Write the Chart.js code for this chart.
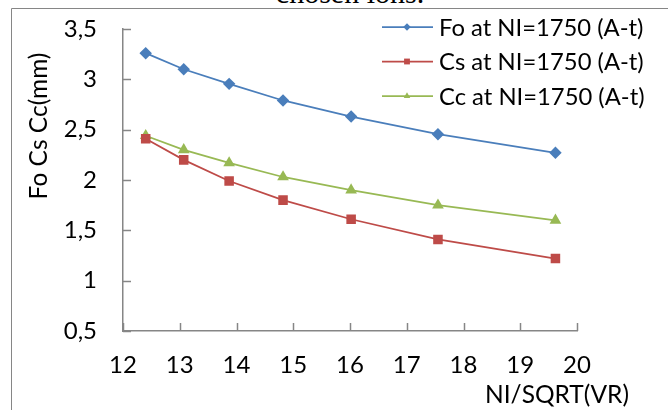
<!DOCTYPE html>
<html>
<head>
<meta charset="utf-8">
<script src="https://cdn.jsdelivr.net/npm/chart.js@4.4.0/dist/chart.umd.min.js"></script>
<style>
    body { margin: 0; background: #fff; }
    #wrap { position: relative; width: 668px; height: 410px; overflow: hidden; }
    #caption {
        position: absolute; left: 0; width: 700px; top: -22px;
        text-align: center; font: 30px "Liberation Serif", serif; line-height: 30px; color: #000;
    }
    canvas { position: absolute; left: 0; top: 0; }
</style>
</head>
<body>
<div id="wrap">
    <div id="caption">chosen ions.</div>
    <canvas id="chart" width="668" height="410"></canvas>
</div>
<script>
// Data
const xValues = [12.4, 13.07, 13.87, 14.82, 16.02, 17.55, 19.62];
const foValues = [3.26, 3.10, 2.955, 2.79, 2.63, 2.455, 2.27];
const csValues = [2.41, 2.20, 1.99, 1.80, 1.61, 1.41, 1.22];
const ccValues = [2.44, 2.30, 2.17, 2.03, 1.90, 1.75, 1.60];
const seriesNames = ['Fo at NI=1750 (A-t)', 'Cs at NI=1750 (A-t)', 'Cc at NI=1750 (A-t)'];

const FONT = 'Lato';
const AXIS_GREY = '#868686';

function toPoints(ys) {
    return xValues.map((x, i) => ({ x: x, y: ys[i] }));
}

// Frame, inside ticks, titles and legend
const extras = {
    id: 'extras',
    beforeDraw(chart) {
        const ctx = chart.ctx;
        ctx.save();
        ctx.strokeStyle = AXIS_GREY;
        ctx.lineWidth = 1;
        ctx.beginPath();
        ctx.moveTo(11.5, 420);
        ctx.lineTo(11.5, 8.5);
        ctx.lineTo(680, 8.5);
        ctx.stroke();
        ctx.restore();
    },
    afterDraw(chart) {
        const ctx = chart.ctx;
        const area = chart.chartArea;
        const xs = chart.scales.x;
        const ys = chart.scales.y;
        ctx.save();

        // tick marks pointing into the plot
        ctx.strokeStyle = AXIS_GREY;
        ctx.lineWidth = 1.5;
        ctx.beginPath();
        xs.ticks.forEach(t => {
            const px = Math.round(xs.getPixelForValue(t.value)) + 0.5;
            ctx.moveTo(px, area.bottom);
            ctx.lineTo(px, area.bottom - 8);
        });
        ys.ticks.forEach(t => {
            const py = Math.round(ys.getPixelForValue(t.value)) + 0.5;
            ctx.moveTo(area.left, py);
            ctx.lineTo(area.left + 8, py);
        });
        ctx.stroke();

        // axis titles
        ctx.fillStyle = '#000';
        ctx.font = '24.5px ' + FONT;
        ctx.textBaseline = 'middle';
        ctx.textAlign = 'center';
        ctx.fillText('NI/SQRT(VR)', 557, 395);
        ctx.save();
        ctx.translate(39, 126);
        ctx.rotate(-Math.PI / 2);
        ctx.fillText('Fo Cs Cc(mm)', 0, 0);
        ctx.restore();

        // legend
        ctx.font = '23.8px ' + FONT;
        ctx.textAlign = 'left';
        chart.data.datasets.forEach((ds, i) => {
            const y = 27 + i * 34.5;
            ctx.strokeStyle = ds.borderColor;
            ctx.lineWidth = 1.75;
            ctx.beginPath();
            ctx.moveTo(382, y);
            ctx.lineTo(433, y);
            ctx.stroke();
            ctx.fillStyle = ds.backgroundColor;
            Chart.helpers.drawPoint(ctx, {
                pointStyle: ds.pointStyle,
                radius: ds.pointRadius * 0.75,
                rotation: 0,
                borderWidth: 0
            }, 407, y);
            ctx.fillStyle = '#000';
            ctx.fillText(ds.label, 439, y + 1);
        });
        ctx.restore();
    }
};

const ctx = document.getElementById('chart').getContext('2d');
new Chart(ctx, {
    type: 'line',
    data: {
        datasets: [
            {
                label: seriesNames[0],
                data: toPoints(foValues),
                borderColor: '#4A7EBB',
                backgroundColor: '#4A7EBB',
                pointStyle: 'rectRot',
                pointRadius: 5,
                borderWidth: 1.75
            },
            {
                label: seriesNames[1],
                data: toPoints(csValues),
                borderColor: '#BE4B48',
                backgroundColor: '#BE4B48',
                pointStyle: 'rect',
                pointRadius: 5.5,
                borderWidth: 1.75
            },
            {
                label: seriesNames[2],
                data: toPoints(ccValues),
                borderColor: '#98B954',
                backgroundColor: '#98B954',
                pointStyle: 'triangle',
                pointRadius: 5,
                borderWidth: 1.75
            }
        ]
    },
    options: {
        responsive: false,
        animation: false,
        devicePixelRatio: 1,
        layout: { padding: { top: 29, right: 91, left: 0, bottom: 0 } },
        elements: {
            line: { tension: 0 },
            point: { borderWidth: 0, hoverRadius: 5 }
        },
        plugins: {
            legend: { display: false },
            tooltip: { enabled: false }
        },
        scales: {
            x: {
                type: 'linear',
                min: 12,
                max: 20,
                ticks: {
                    stepSize: 1,
                    color: '#000',
                    padding: 20,
                    maxRotation: 0,
                    font: { family: FONT, size: 24 }
                },
                grid: { display: false, drawTicks: false },
                border: { display: true, color: AXIS_GREY, width: 1.5 },
                afterFit(scale) {
                    scale.height = 79;
                    scale.paddingLeft = 0;
                    scale.paddingRight = 0;
                }
            },
            y: {
                min: 0.5,
                max: 3.5,
                ticks: {
                    stepSize: 0.5,
                    color: '#000',
                    padding: 26,
                    font: { family: FONT, size: 24 },
                    callback: v => String(v).replace('.', ',')
                },
                grid: { display: false, drawTicks: false },
                border: { display: true, color: AXIS_GREY, width: 1.5 },
                afterFit(scale) {
                    scale.width = 123;
                    scale.paddingTop = 0;
                    scale.paddingBottom = 0;
                }
            }
        }
    },
    plugins: [extras]
});
</script>
</body>
</html>
